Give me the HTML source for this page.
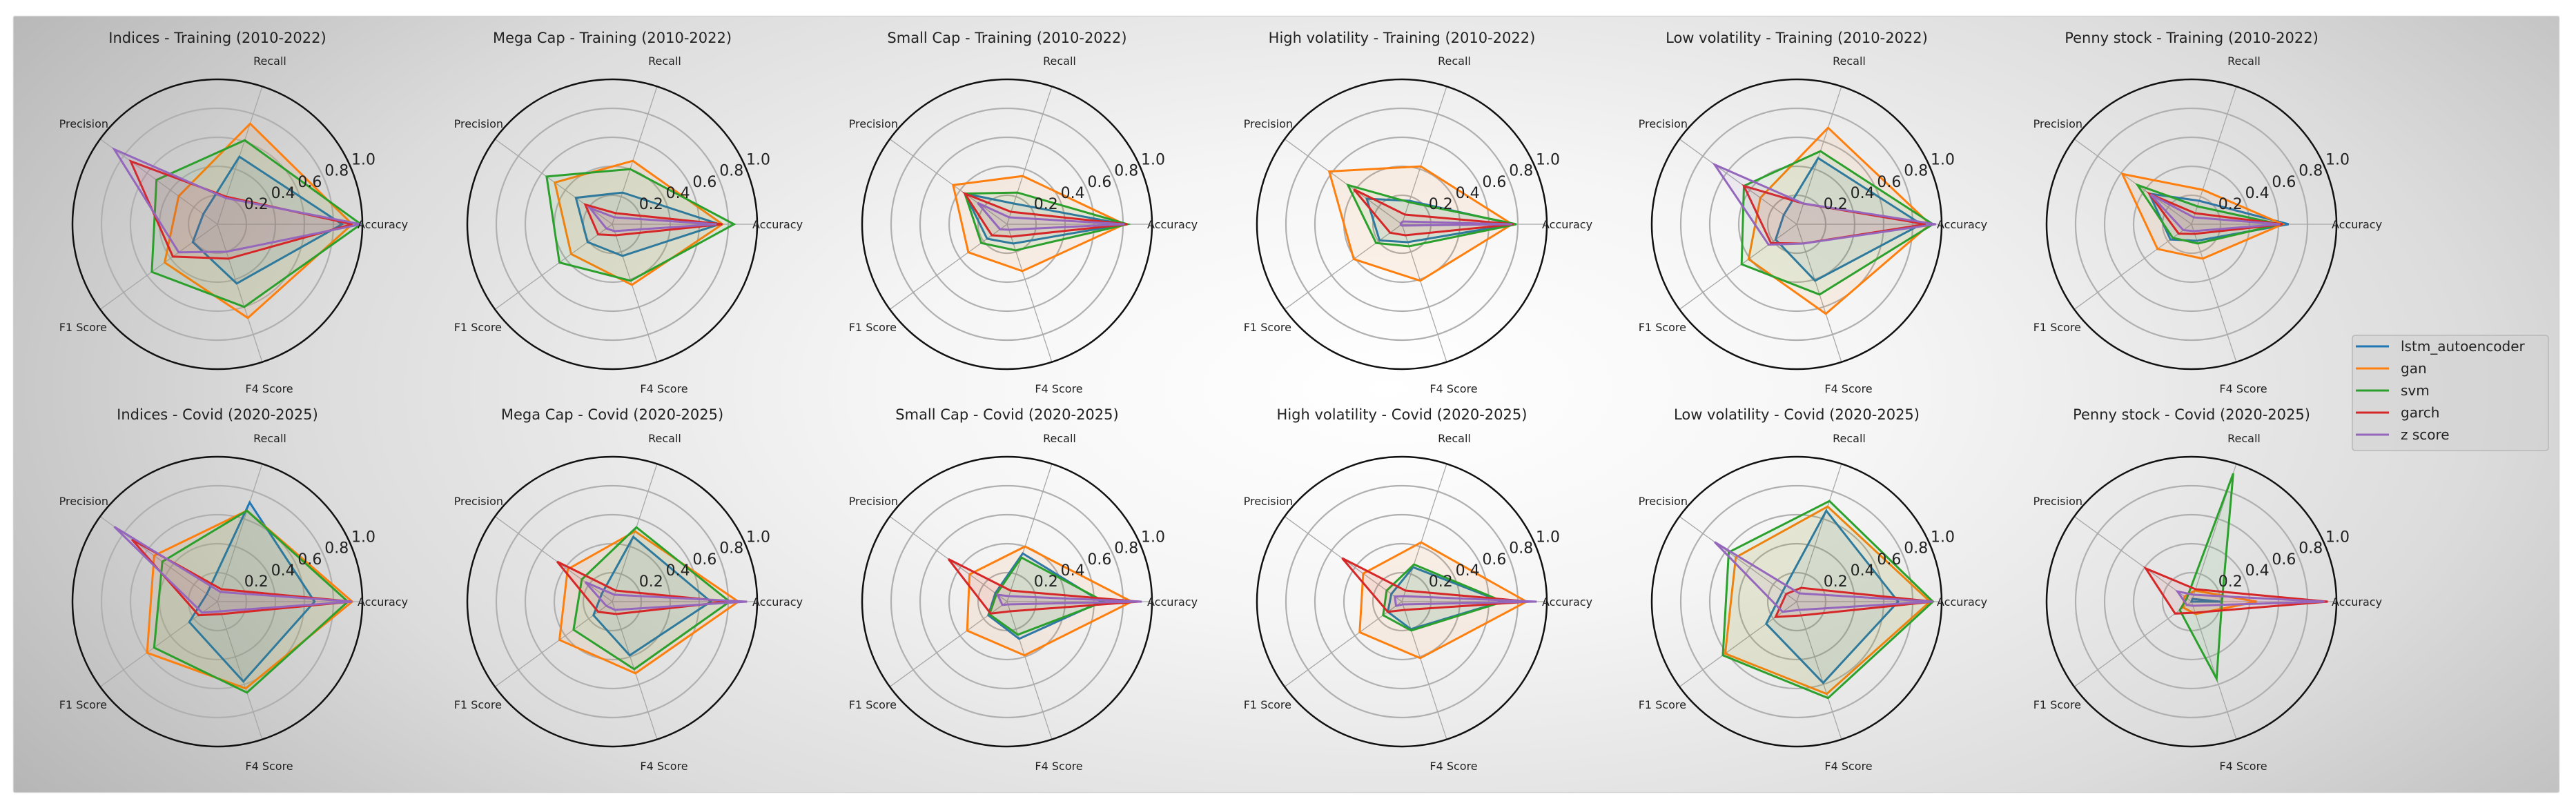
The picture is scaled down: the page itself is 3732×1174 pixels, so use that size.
<!DOCTYPE html>
<html><head><meta charset="utf-8">
<style>
html,body{margin:0;padding:0;background:#fff;}
#wrap{position:relative;width:3732px;height:1174px;overflow:hidden;background:#fff;}
#frame{position:absolute;left:20px;top:24px;width:3687px;height:1124px;
background:radial-gradient(ellipse 66% 100% at 54% 48%, #ffffff 0%, #f5f5f5 30%, #dcdcdc 65%, #b2b2b2 100%);
box-shadow:0 0 2px #777;}
svg{position:absolute;left:0;top:0;}
text{font-family:"DejaVu Sans","Liberation Sans",sans-serif;fill:#222;}
</style></head>
<body>
<div id="wrap">
<div id="frame"></div>
<svg id="chart" width="3732" height="1174" xmlns="http://www.w3.org/2000/svg"></svg>
</div>
<script>
const categories = ["Accuracy","Recall","Precision","F1 Score","F4 Score"];
const modelNames = ["lstm_autoencoder","gan","svm","garch","z score"];
const chartTitles = [
"Indices - Training (2010-2022)","Mega Cap - Training (2010-2022)","Small Cap - Training (2010-2022)",
"High volatility - Training (2010-2022)","Low volatility - Training (2010-2022)","Penny stock - Training (2010-2022)",
"Indices - Covid (2020-2025)","Mega Cap - Covid (2020-2025)","Small Cap - Covid (2020-2025)",
"High volatility - Covid (2020-2025)","Low volatility - Covid (2020-2025)","Penny stock - Covid (2020-2025)"];
const tickLabels = ["0.2","0.4","0.6","0.8","1.0"];
const tickValues = [0.2,0.4,0.6,0.8,1.0];
const lstmValues = [
[.86,.49,.12,.21,.43],[.74,.23,.31,.21,.23],[.81,.15,.36,.17,.14],[.77,.17,.30,.19,.13],[.86,.48,.11,.18,.41],[.67,.17,.36,.18,.12],
[.67,.72,.09,.24,.58],[.68,.47,.09,.16,.39],[.65,.35,.10,.16,.27],[.69,.25,.09,.12,.20],[.70,.66,.12,.26,.59],[.20,.02,.0,.0,.0]];
const ganValues = [
[.93,.73,.33,.45,.68],[.76,.46,.49,.35,.44],[.81,.35,.46,.33,.34],[.76,.42,.62,.41,.41],[.92,.70,.31,.41,.65],[.63,.25,.59,.29,.25],
[.93,.66,.54,.60,.63],[.87,.51,.38,.45,.52],[.86,.40,.32,.34,.39],[.86,.43,.33,.36,.41],[.92,.69,.52,.61,.67],[.45,.08,.06,.07,.09]];
const svmValues = [
[.99,.61,.52,.56,.60],[.84,.40,.56,.45,.41],[.83,.23,.36,.22,.19],[.79,.16,.46,.22,.16],[.94,.53,.45,.47,.51],[.61,.13,.46,.16,.14],
[.90,.66,.47,.54,.66],[.81,.54,.26,.33,.49],[.67,.32,.09,.15,.24],[.70,.27,.13,.16,.21],[.94,.73,.58,.63,.70],[.21,.93,.04,.10,.56]];
const garchValues = [
[.93,.20,.74,.38,.25],[.76,.08,.23,.12,.08],[.83,.09,.36,.13,.09],[.77,.07,.41,.10,.08],[.89,.15,.45,.22,.14],[.63,.08,.36,.11,.07],
[.93,.09,.73,.16,.09],[.80,.08,.47,.12,.09],[.91,.08,.50,.14,.07],[.88,.08,.51,.12,.06],[.94,.10,.09,.18,.10],[.94,.09,.39,.14,.08]];
const zscoreValues = [
[.99,.19,.88,.33,.20],[.72,.05,.19,.05,.05],[.81,.05,.25,.06,.04],[.76,.02,.01,.01,.01],[.96,.15,.70,.24,.14],[.61,.05,.35,.07,.05],
[.93,.07,.88,.13,.07],[.93,.05,.23,.05,.06],[.93,.04,.08,.04,.02],[.93,.04,.06,.05,.02],[.94,.06,.70,.12,.06],[.92,.05,.12,.04,.03]];

const allSeries = [lstmValues, ganValues, svmValues, garchValues, zscoreValues];
const colors = ["#1f77b4","#ff7f0e","#2ca02c","#d62728","#9467bd"];
const NS = "http://www.w3.org/2000/svg";
const svg = document.getElementById("chart");
const R = 210;
const colX0 = 315, colDX = 572, rowY = [325, 872], titleY = [62, 608];
function mk(tag, attrs, parent){const e=document.createElementNS(NS,tag);for(const k in attrs)e.setAttribute(k,attrs[k]);(parent||svg).appendChild(e);return e;}
function angle(i){return i*2*Math.PI/categories.length;}
function px(cx,v,i){return cx + R*v*Math.cos(angle(i));}
function py(cy,v,i){return cy - R*v*Math.sin(angle(i));}
const labelOff = [[203,0,"start"],[76,-237,"middle"],[-158,-146,"end"],[-160,149,"end"],[75,238,"middle"]];

for(let c=0;c<12;c++){
  const cx = colX0 + (c%6)*colDX, cy = rowY[Math.floor(c/6)];
  const g = mk("g",{});
  
  
  const t = mk("text",{x:cx,y:titleY[Math.floor(c/6)],"text-anchor":"middle","font-size":"21"},g);
  t.textContent = chartTitles[c];
  
  
  for(let k=0;k<tickValues.length-1;k++){
    const ring = mk("circle",{cx:cx,cy:cy,r:R*tickValues[k],fill:"none",stroke:"#b0b0b0","stroke-width":"2.2"},g);
    
    
  }
  for(let i=0;i<categories.length;i++){
    const sp = mk("line",{x1:cx,y1:cy,x2:px(cx,1,i),y2:py(cy,1,i),stroke:"#a8a8a8","stroke-width":"1.3"},g);
    
    
  }
  const outer = mk("circle",{cx:cx,cy:cy,r:R,fill:"none",stroke:"#111","stroke-width":"2.5"},g);
  
  
  for(let s=0;s<allSeries.length;s++){
    const vals = allSeries[s][c];
    const pts = vals.map((v,i)=>px(cx,v,i).toFixed(1)+","+py(cy,v,i).toFixed(1)).join(" ");
    const poly = mk("polygon",{points:pts,fill:colors[s],"fill-opacity":"0.08",stroke:colors[s],"stroke-width":"3","stroke-linejoin":"miter"},g);
    
    
  }
  const ang = 22.5*Math.PI/180;
  for(let k=0;k<tickValues.length;k++){
    const r = R*tickValues[k];
    const tl = mk("text",{x:cx+r*Math.cos(ang),y:cy-r*Math.sin(ang)-6,"font-size":"22"},g);
    tl.textContent = tickLabels[k];
    
    
  }
  for(let i=0;i<categories.length;i++){
    const o = labelOff[i];
    const al = mk("text",{x:cx+o[0],y:cy+o[1]+6,"text-anchor":o[2],"font-size":"16"},g);
    al.textContent = categories[i];
    
    
  }
}
// legend
const lg = mk("g",{});


const box = mk("rect",{x:3408,y:486,width:284,height:167,rx:4,fill:"#cfcfcf","fill-opacity":"0.5",stroke:"#b8b8b8","stroke-width":"1.5"},lg);


for(let s=0;s<modelNames.length;s++){
  const y = 502 + s*32;
  const ln = mk("line",{x1:3413,y1:y,x2:3461,y2:y,stroke:colors[s],"stroke-width":"3"},lg);
  
  
  const tx = mk("text",{x:3478,y:y+7,"font-size":"20"},lg);
  tx.textContent = modelNames[s];
  
  
}
</script>
</body></html>
